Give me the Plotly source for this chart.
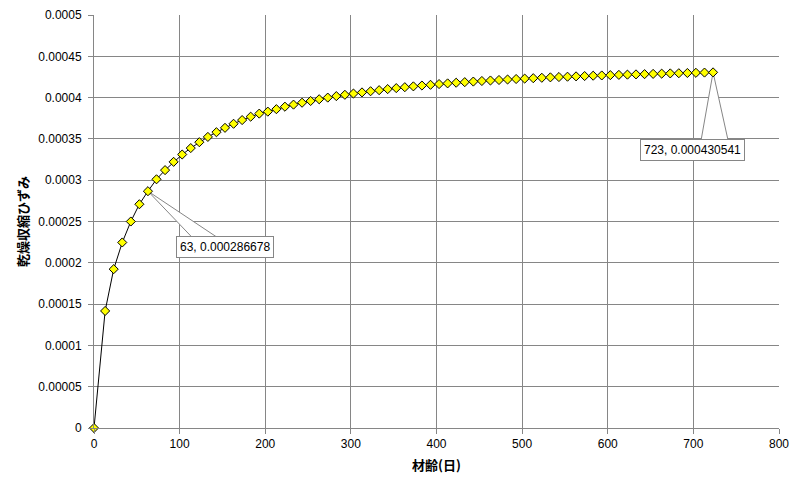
import plotly.graph_objects as go

# ---- data ----
days = [0, 13, 23, 33, 43, 53, 63, 73, 83, 93, 103, 113, 123, 133, 143, 153, 163, 173,
        183, 193, 203, 213, 223, 233, 243, 253, 263, 273, 283, 293, 303, 313, 323, 333,
        343, 353, 363, 373, 383, 393, 403, 413, 423, 433, 443, 453, 463, 473, 483, 493,
        503, 513, 523, 533, 543, 553, 563, 573, 583, 593, 603, 613, 623, 633, 643, 653,
        663, 673, 683, 693, 703, 713, 723]
shrinkage = [0, 0.0001417, 0.0001923, 0.0002246, 0.0002500, 0.0002709, 0.000286678,
             0.0003011, 0.0003122, 0.0003222, 0.0003311, 0.0003389, 0.0003460, 0.0003524,
             0.0003581, 0.0003634, 0.0003683, 0.0003728, 0.0003769, 0.0003806, 0.0003830,
             0.0003860, 0.0003890, 0.0003915, 0.0003938, 0.0003959, 0.0003980, 0.0004000,
             0.0004018, 0.0004034, 0.0004049, 0.0004063, 0.0004077, 0.0004090, 0.0004103,
             0.0004115, 0.0004126, 0.0004136, 0.0004146, 0.0004155, 0.0004164, 0.0004172,
             0.0004180, 0.0004187, 0.0004194, 0.0004201, 0.0004207, 0.0004213, 0.0004219,
             0.0004225, 0.0004230, 0.0004235, 0.0004240, 0.0004245, 0.0004249, 0.0004253,
             0.0004257, 0.0004261, 0.0004265, 0.0004268, 0.0004272, 0.0004275, 0.0004278,
             0.0004281, 0.0004284, 0.0004287, 0.0004290, 0.0004293, 0.0004295, 0.0004298,
             0.0004300, 0.0004303, 0.000430541]
x_ticks = [0, 100, 200, 300, 400, 500, 600, 700, 800]
y_ticks = [0, 0.00005, 0.0001, 0.00015, 0.0002, 0.00025, 0.0003, 0.00035, 0.0004, 0.00045, 0.0005]
y_tick_labels = ["0", "0.00005", "0.0001", "0.00015", "0.0002", "0.00025", "0.0003",
                 "0.00035", "0.0004", "0.00045", "0.0005"]
x_title = "材齢(日)"
y_title = "乾燥収縮ひずみ"
label_days = [63, 723]

# ---- style ----
GRID = "#868686"
TICKFONT = dict(family="Liberation Sans, Arial", size=12, color="#000000")
TITLEFONT = dict(family="Noto Sans CJK JP", size=13, color="#000000")
# callout offsets in pixels: (box center dx, dy), wedge base (x_left, x_right, y)
callout_style = {
    63: dict(bx=77, by=-56, wl=44, wr=69, wy=-46),
    723: dict(bx=-21, by=-78, wl=-12, wr=15, wy=-68),
}

fig = go.Figure()
fig.add_trace(go.Scatter(
    x=days, y=shrinkage, mode="lines+markers",
    line=dict(color="#000000", width=1),
    marker=dict(symbol="diamond", size=7, color="#FFFF00",
                line=dict(color="#000000", width=1)),
    cliponaxis=False, showlegend=False,
))

shapes = []
annotations = []
for d in label_days:
    i = days.index(d)
    v = shrinkage[i]
    s = callout_style[d]
    shapes.append(dict(
        type="path", xref="x", yref="y", xsizemode="pixel", ysizemode="pixel",
        xanchor=d, yanchor=v,
        path=f"M0,0 L{s['wl']},{s['wy']} L{s['wr']},{s['wy']} Z",
        fillcolor="#FFFFFF", line=dict(color=GRID, width=1), layer="between",
    ))
    annotations.append(dict(
        x=d, y=v, xref="x", yref="y", showarrow=False,
        xshift=s["bx"], yshift=s["by"],
        text=f"{d}, {v:.9f}",
        font=dict(family="Liberation Sans, Arial", size=12, color="#000000"),
        bgcolor="#FFFFFF", bordercolor=GRID, borderwidth=1, borderpad=3,
    ))

# page body adds an 8px offset, so margins are compensated
fig.update_layout(
    width=802, height=491,
    margin=dict(l=86, r=31, t=7, b=71),
    paper_bgcolor="#FFFFFF", plot_bgcolor="#FFFFFF",
    shapes=shapes, annotations=annotations,
    xaxis=dict(
        range=[0, 800], tickvals=x_ticks, showgrid=True, gridcolor=GRID, gridwidth=1,
        showline=True, linecolor=GRID, linewidth=1, zeroline=False, automargin=False,
        ticks="outside", ticklen=5, tickcolor=GRID, tickfont=TICKFONT,
        title=dict(text=f"<b>{x_title}</b>", font=TITLEFONT, standoff=10),
    ),
    yaxis=dict(
        range=[0, 0.0005], tickvals=y_ticks, ticktext=y_tick_labels,
        showgrid=True, gridcolor=GRID, gridwidth=1,
        showline=True, linecolor=GRID, linewidth=1, zeroline=False, automargin=False,
        ticks="outside", ticklen=5, tickcolor=GRID, tickfont=TICKFONT,
        ticklabelstandoff=4,
        title=dict(text=f"<b>{y_title}</b>", font=TITLEFONT, standoff=6),
    ),
)

fig.write_html("out.html")
